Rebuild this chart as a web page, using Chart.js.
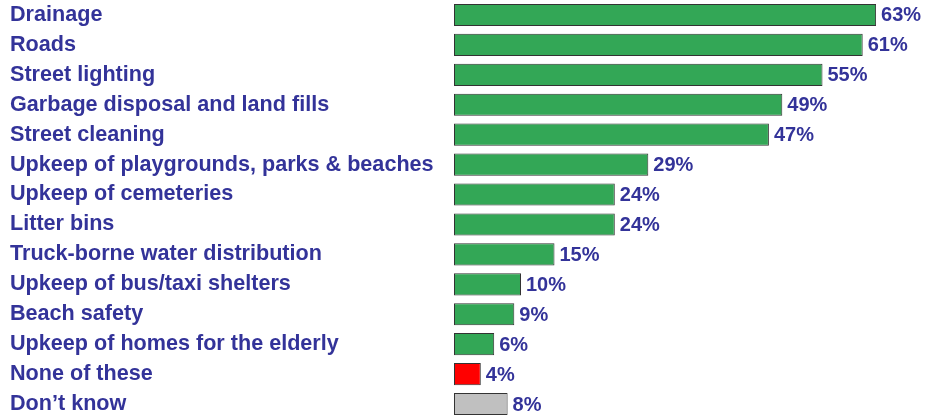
<!DOCTYPE html>
<html>
<head>
<meta charset="utf-8">
<script src="https://cdn.jsdelivr.net/npm/chart.js@4"></script>
<style>
  html, body { margin: 0; padding: 0; background: #fff; }
  #wrap { width: 925px; height: 419px; }
</style>
</head>
<body>
<div id="wrap"><canvas id="bars"></canvas></div>
<script>
var categories = [
	'Drainage',
	'Roads',
	'Street lighting',
	'Garbage disposal and land fills',
	'Street cleaning',
	'Upkeep of playgrounds, parks & beaches',
	'Upkeep of cemeteries',
	'Litter bins',
	'Truck-borne water distribution',
	'Upkeep of bus/taxi shelters',
	'Beach safety',
	'Upkeep of homes for the elderly',
	'None of these',
	'Don\u2019t know'
];
var values = [63, 61, 55, 49, 47, 29, 24, 24, 15, 10, 9, 6, 4, 8];
var barColors = [
	'#33a756', '#33a756', '#33a756', '#33a756', '#33a756', '#33a756', '#33a756',
	'#33a756', '#33a756', '#33a756', '#33a756', '#33a756', '#ff0000', '#c0c0c0'
];

var textColor = '#333399';
var labelFont = { family: 'Liberation Sans, Arial, sans-serif', size: 21.6, weight: 'bold' };

// draws "NN%" just right of each bar
var valueLabels = {
	id: 'valueLabels',
	afterDatasetsDraw: function (chart) {
		var ctx = chart.ctx;
		var meta = chart.getDatasetMeta(0);
		ctx.save();
		ctx.font = 'bold 20px "Liberation Sans", Arial, sans-serif';
		ctx.fillStyle = textColor;
		ctx.textAlign = 'left';
		ctx.textBaseline = 'middle';
		meta.data.forEach(function (bar, i) {
			ctx.fillText(values[i] + '%', bar.x + 5, bar.y + 1);
		});
		ctx.restore();
	}
};

var ctx = document.getElementById('bars');

var chart = new Chart(ctx, {
	type: 'bar',
	data: {
		labels: categories,
		datasets: [{
			data: values,
			backgroundColor: barColors,
			borderColor: '#333333',
			borderWidth: 1,
			borderSkipped: false,
			barPercentage: 0.74,
			categoryPercentage: 1
		}]
	},
	options: {
		indexAxis: 'y',
		responsive: true,
		maintainAspectRatio: false,
		animation: false,
		layout: {
			padding: { left: 10, right: 2, top: -1, bottom: -1 }
		},
		scales: {
			x: {
				display: false,
				min: 0,
				max: 70
			},
			y: {
				grid: { display: false, drawTicks: false },
				border: { display: false },
				ticks: {
					color: textColor,
					font: labelFont,
					crossAlign: 'far',
					padding: 0,
					autoSkip: false
				},
				afterFit: function (scale) {
					scale.width = 444;
					scale.paddingTop = 0;
					scale.paddingBottom = 0;
				}
			}
		},
		plugins: {
			legend: { display: false },
			tooltip: { enabled: false }
		}
	},
	plugins: [valueLabels]
});
</script>
</body>
</html>
